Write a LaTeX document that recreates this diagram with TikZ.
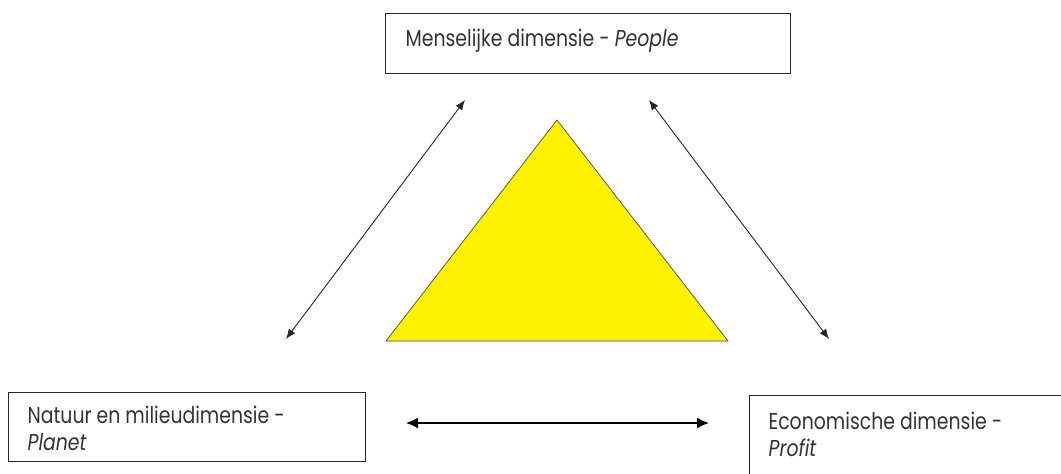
\documentclass[tikz,border=0pt]{standalone}
\usepackage{fontspec}
\setmainfont{Poppins}[FakeStretch=0.82]
\usetikzlibrary{arrows.meta}
\tikzset{
  box/.style={draw=black!85, line width=1.2pt, inner xsep=19pt, inner ysep=0pt, anchor=north west, text=black!80},
  dbl/.style={draw=black!85, line width=0.9pt, {Latex[length=10pt,width=8pt]}-{Latex[length=10pt,width=8pt]}},
  dblthick/.style={draw=black, line width=1.6pt, {Latex[length=12pt,width=11pt]}-{Latex[length=12pt,width=11pt]}},
  tri/.style={draw=black!70, line width=0.7pt, fill=yellow}
}
\newcommand{\boxtext}[4]{\parbox[c][#1][t]{#2}{\fontsize{23}{27}\selectfont\rule{0pt}{#3}#4}}
\begin{document}
\begin{tikzpicture}[x=1pt, y=-1pt]
\useasboundingbox (0,0) rectangle (1061,474);
% boxes
\node[box, inner xsep=20pt] (people) at (385,13) {\boxtext{60pt}{365pt}{33pt}{Menselijke dimensie - \textit{People}}};
\node[box] (planet) at (8,392) {\boxtext{69pt}{319pt}{31pt}{Natuur en milieudimensie -\\\textit{Planet}}};
\node[box] (profit) at (749,395) {\boxtext{100pt}{320pt}{34pt}{Economische dimensie -\\\textit{Profit}}};
% triangle
\coordinate (apex) at (557,120);
\coordinate (bl) at (386,341);
\coordinate (br) at (728,341);
\draw[tri] (apex) -- (bl) -- (br) -- cycle;
% arrows
\coordinate (l1) at (286,339);
\coordinate (l2) at (465,100);
\coordinate (r1) at (649,100);
\coordinate (r2) at (829,339);
\coordinate (h1) at (406,423);
\coordinate (h2) at (709,423);
\draw[dbl] (l1) -- (l2);
\draw[dbl] (r1) -- (r2);
\draw[dblthick] (h1) -- (h2);
\end{tikzpicture}
\end{document}
